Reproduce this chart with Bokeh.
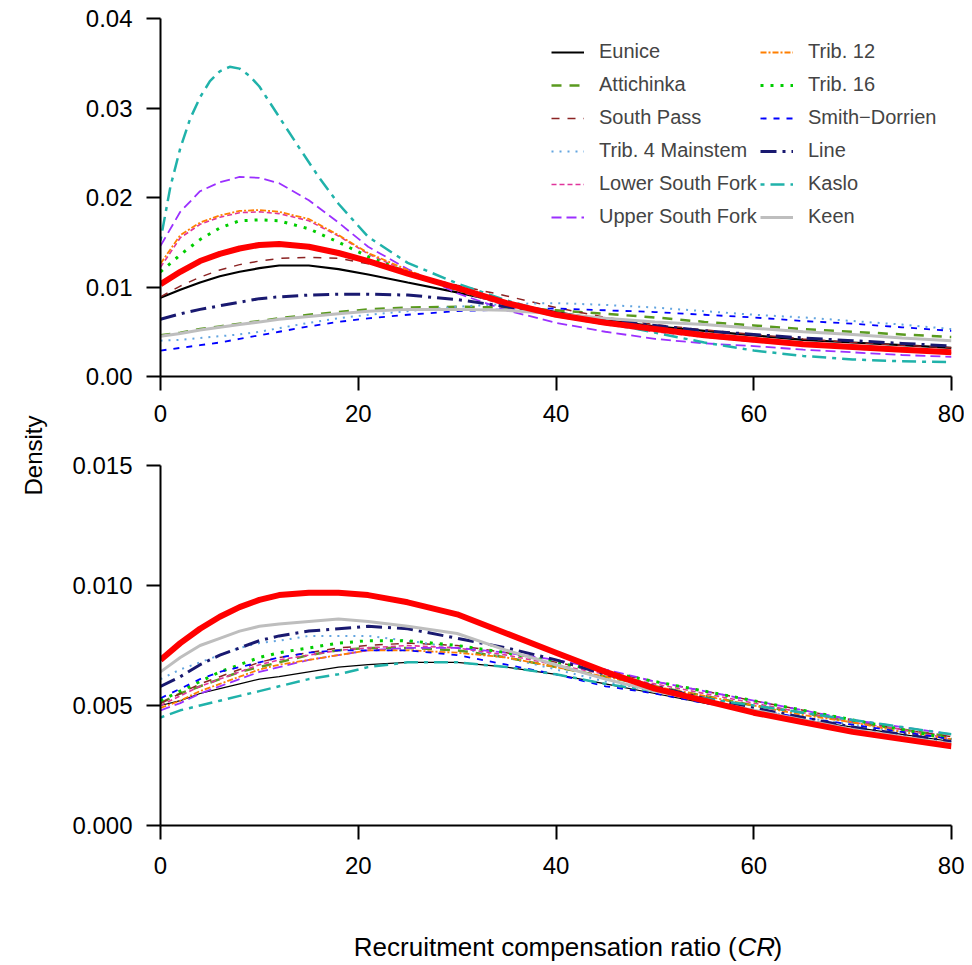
import math
from bokeh.plotting import figure
from bokeh.layouts import row, column
from bokeh.models import Range1d, FixedTicker, PrintfTickFormatter, Legend, LegendItem
from bokeh.embed import file_html
from bokeh.resources import INLINE
from bokeh.core.properties import value

# ---------------- data ----------------
cr = [0, 2, 4, 6, 8, 10, 12, 15, 18, 21, 25, 30, 35, 40, 45, 50, 55, 60, 65, 70, 75, 80]
cr_kaslo_top = [0, 1, 2, 3, 4, 5, 6, 7, 8, 9, 10, 12, 14, 16, 18, 21, 25, 30, 35, 40, 45, 50, 55, 60, 65, 70, 75, 80]

sites = ["Eunice", "Attichinka", "South Pass", "Trib. 4 Mainstem", "Lower South Fork",
         "Upper South Fork", "Trib. 12", "Trib. 16", "Smith\u2212Dorrien", "Line", "Kaslo", "Keen"]

# top panel densities
top_eunice = [0.0088, 0.0097, 0.0105, 0.0112, 0.0117, 0.0121, 0.0124, 0.0124, 0.0120, 0.0114, 0.0105, 0.0094, 0.0082, 0.0072, 0.0063, 0.0056, 0.0051, 0.0046, 0.0041, 0.0038, 0.0035, 0.0032]
top_attichinka = [0.0046, 0.0049, 0.0053, 0.0056, 0.0059, 0.0062, 0.0065, 0.0069, 0.0072, 0.0075, 0.0077, 0.0078, 0.0077, 0.0074, 0.0070, 0.0066, 0.0061, 0.0057, 0.0053, 0.0050, 0.0047, 0.0044]
top_southpass = [0.0089, 0.0101, 0.0111, 0.0119, 0.0125, 0.0129, 0.0132, 0.0133, 0.0132, 0.0126, 0.0115, 0.0102, 0.0090, 0.0077, 0.0066, 0.0058, 0.0052, 0.0047, 0.0042, 0.0038, 0.0035, 0.0032]
top_trib4 = [0.0040, 0.0041, 0.0043, 0.0045, 0.0047, 0.0050, 0.0054, 0.0060, 0.0065, 0.0069, 0.0073, 0.0078, 0.0081, 0.0082, 0.0080, 0.0077, 0.0073, 0.0069, 0.0066, 0.0062, 0.0058, 0.0053]
top_lsf = [0.0122, 0.0155, 0.0170, 0.0178, 0.0183, 0.0184, 0.0182, 0.0174, 0.0157, 0.0137, 0.0117, 0.0096, 0.0079, 0.0067, 0.0058, 0.0050, 0.0044, 0.0039, 0.0035, 0.0031, 0.0028, 0.0026]
top_usf = [0.0146, 0.0184, 0.0207, 0.0217, 0.0223, 0.0222, 0.0216, 0.0197, 0.0172, 0.0145, 0.0120, 0.0093, 0.0074, 0.0060, 0.0050, 0.0042, 0.0037, 0.0034, 0.0030, 0.0027, 0.0024, 0.0022]
top_trib12 = [0.0126, 0.0158, 0.0172, 0.0180, 0.0185, 0.0186, 0.0184, 0.0176, 0.0158, 0.0138, 0.0119, 0.0097, 0.0080, 0.0068, 0.0059, 0.0051, 0.0045, 0.0040, 0.0036, 0.0032, 0.0029, 0.0027]
top_trib16 = [0.0117, 0.0136, 0.0153, 0.0166, 0.0174, 0.0175, 0.0174, 0.0165, 0.0150, 0.0134, 0.0116, 0.0097, 0.0081, 0.0069, 0.0060, 0.0052, 0.0046, 0.0041, 0.0037, 0.0033, 0.0030, 0.0027]
top_smith = [0.0029, 0.0032, 0.0035, 0.0038, 0.0042, 0.0046, 0.0050, 0.0056, 0.0061, 0.0065, 0.0069, 0.0073, 0.0075, 0.0076, 0.0074, 0.0072, 0.0069, 0.0066, 0.0062, 0.0059, 0.0055, 0.0051]
top_line = [0.0064, 0.0070, 0.0075, 0.0079, 0.0083, 0.0087, 0.0089, 0.0091, 0.0092, 0.0092, 0.0091, 0.0086, 0.0078, 0.0070, 0.0063, 0.0057, 0.0051, 0.0047, 0.0043, 0.0040, 0.0037, 0.0034]
top_kaslo = [0.0152, 0.0212, 0.0255, 0.0288, 0.0312, 0.0330, 0.0341, 0.0346, 0.0344, 0.0336, 0.0324, 0.0290, 0.0256, 0.0223, 0.0193, 0.0156, 0.0127, 0.0104, 0.0085, 0.0069, 0.0060, 0.0049, 0.0038, 0.0029, 0.0023, 0.0019, 0.0017, 0.0016]
top_keen = [0.0045, 0.0048, 0.0052, 0.0055, 0.0058, 0.0061, 0.0064, 0.0067, 0.0070, 0.0073, 0.0075, 0.0075, 0.0074, 0.0070, 0.0065, 0.0061, 0.0058, 0.0054, 0.0050, 0.0047, 0.0043, 0.0040]
top_pooled = [0.0103, 0.0117, 0.0129, 0.0137, 0.0143, 0.0147, 0.0148, 0.0145, 0.0138, 0.0129, 0.0115, 0.0099, 0.0082, 0.0069, 0.0060, 0.0053, 0.0046, 0.0041, 0.0036, 0.0033, 0.0030, 0.0027]

# bottom panel densities
bot_eunice = [0.0050, 0.0052, 0.0055, 0.0057, 0.0059, 0.0061, 0.0062, 0.0064, 0.0066, 0.0067, 0.0068, 0.0068, 0.0066, 0.0063, 0.0059, 0.0055, 0.0051, 0.0048, 0.0044, 0.0041, 0.0038, 0.0035]
bot_attichinka = [0.0051, 0.0055, 0.0058, 0.0061, 0.0064, 0.0066, 0.0068, 0.0071, 0.0073, 0.0074, 0.0074, 0.0073, 0.0070, 0.0066, 0.0062, 0.0058, 0.0054, 0.0050, 0.0047, 0.0043, 0.0040, 0.0037]
bot_southpass = [0.0051, 0.0055, 0.0059, 0.0062, 0.0065, 0.0068, 0.0070, 0.0072, 0.0074, 0.0075, 0.0076, 0.0075, 0.0072, 0.0068, 0.0064, 0.0060, 0.0056, 0.0052, 0.0048, 0.0044, 0.0040, 0.0037]
bot_trib4 = [0.0061, 0.0065, 0.0068, 0.0071, 0.0074, 0.0076, 0.0077, 0.0079, 0.0079, 0.0079, 0.0077, 0.0074, 0.0070, 0.0065, 0.0060, 0.0056, 0.0052, 0.0048, 0.0045, 0.0042, 0.0039, 0.0036]
bot_lsf = [0.0050, 0.0054, 0.0058, 0.0061, 0.0064, 0.0067, 0.0069, 0.0071, 0.0073, 0.0074, 0.0075, 0.0074, 0.0071, 0.0067, 0.0063, 0.0059, 0.0055, 0.0051, 0.0047, 0.0043, 0.0040, 0.0036]
bot_usf = [0.0048, 0.0051, 0.0055, 0.0058, 0.0061, 0.0064, 0.0066, 0.0069, 0.0071, 0.0073, 0.0074, 0.0074, 0.0072, 0.0069, 0.0065, 0.0060, 0.0056, 0.0052, 0.0048, 0.0044, 0.0041, 0.0038]
bot_trib12 = [0.0049, 0.0052, 0.0056, 0.0059, 0.0062, 0.0065, 0.0067, 0.0069, 0.0071, 0.0073, 0.0073, 0.0072, 0.0070, 0.0066, 0.0062, 0.0058, 0.0054, 0.0050, 0.0046, 0.0043, 0.0039, 0.0036]
bot_trib16 = [0.0052, 0.0056, 0.0060, 0.0064, 0.0067, 0.0070, 0.0072, 0.0074, 0.0076, 0.0077, 0.0077, 0.0075, 0.0072, 0.0068, 0.0064, 0.0060, 0.0056, 0.0052, 0.0048, 0.0044, 0.0040, 0.0036]
bot_smith = [0.0053, 0.0057, 0.0061, 0.0064, 0.0066, 0.0068, 0.0070, 0.0072, 0.0073, 0.0073, 0.0073, 0.0071, 0.0067, 0.0063, 0.0058, 0.0055, 0.0051, 0.0048, 0.0045, 0.0042, 0.0039, 0.0036]
bot_line = [0.0058, 0.0062, 0.0067, 0.0071, 0.0074, 0.0077, 0.0079, 0.0081, 0.0082, 0.0083, 0.0082, 0.0078, 0.0074, 0.0069, 0.0063, 0.0058, 0.0053, 0.0049, 0.0045, 0.0041, 0.0038, 0.0035]
bot_kaslo = [0.0045, 0.0048, 0.0050, 0.0052, 0.0054, 0.0056, 0.0058, 0.0061, 0.0063, 0.0066, 0.0068, 0.0068, 0.0066, 0.0063, 0.0059, 0.0056, 0.0053, 0.0050, 0.0047, 0.0044, 0.0041, 0.0038]
bot_keen = [0.0064, 0.0070, 0.0075, 0.0078, 0.0081, 0.0083, 0.0084, 0.0085, 0.0086, 0.0085, 0.0083, 0.0080, 0.0073, 0.0067, 0.0061, 0.0056, 0.0052, 0.0048, 0.0044, 0.0040, 0.0037, 0.0034]
bot_pooled = [0.0069, 0.0076, 0.0082, 0.0087, 0.0091, 0.0094, 0.0096, 0.0097, 0.0097, 0.0096, 0.0093, 0.0088, 0.0080, 0.0072, 0.0064, 0.0057, 0.0052, 0.0047, 0.0043, 0.0039, 0.0036, 0.0033]

top_series = [top_eunice, top_attichinka, top_southpass, top_trib4, top_lsf, top_usf,
              top_trib12, top_trib16, top_smith, top_line, top_kaslo, top_keen]
top_x = [cr] * 10 + [cr_kaslo_top, cr]
bot_series = [bot_eunice, bot_attichinka, bot_southpass, bot_trib4, bot_lsf, bot_usf,
              bot_trib12, bot_trib16, bot_smith, bot_line, bot_kaslo, bot_keen]

x_ticks = [0, 20, 40, 60, 80]
top_y_ticks = [0.0, 0.01, 0.02, 0.03, 0.04]
bot_y_ticks = [0.0, 0.005, 0.010, 0.015]

# ---------------- styles ----------------
colors = ["#000000", "#5A9A1F", "#8B2323", "#63A5E0", "#E0349B", "#9B30FF",
          "#FF7F00", "#00CD00", "#0000FF", "#191970", "#20B2AA", "#BEBEBE"]
dashes = ["solid", "10 8", "8 8", "2 6", "5 3", "10 5",
          "6 2 2 2", "3 7", "6 7", "16 6 3 6", "4 6 14 6", "solid"]
widths = [2.2, 2.5, 1.5, 2.0, 1.6, 1.8, 1.8, 3.0, 1.8, 3.0, 2.5, 3.0]

FONT = "Liberation Sans"
W = 906
LAB_W = 58
TOP_H = 436
BOT_H = 469
TTL_H = 56
TOTAL_H = TOP_H + BOT_H + TTL_H


def style_axes(p, yfmt, xstand):
    for ax in (p.xaxis[0], p.yaxis[0]):
        ax.axis_line_width = 2
        ax.major_tick_line_width = 2
        ax.major_tick_in = 0
        ax.major_tick_out = 14
        ax.minor_tick_line_color = None
        ax.major_label_text_font = FONT
        ax.major_label_text_font_size = "24px"
        ax.major_label_text_color = "#000000"
        ax.major_label_standoff = 14
    p.xaxis[0].major_label_standoff = xstand
    p.xaxis[0].ticker = FixedTicker(ticks=x_ticks)
    p.xaxis[0].formatter = PrintfTickFormatter(format="%d")
    p.yaxis[0].formatter = PrintfTickFormatter(format=yfmt)
    p.xgrid.visible = False
    p.ygrid.visible = False
    p.outline_line_color = None


top = figure(width=W, height=TOP_H, x_range=Range1d(0, 80), y_range=Range1d(0, 0.04),
             min_border_left=102, min_border_right=13, min_border_top=18, min_border_bottom=60,
             output_backend="svg", toolbar_location=None)
style_axes(top, "%.2f", 14)
top.yaxis[0].ticker = FixedTicker(ticks=top_y_ticks)

bot = figure(width=W, height=BOT_H, x_range=Range1d(0, 80), y_range=Range1d(0, 0.015),
             min_border_left=102, min_border_right=13, min_border_top=29, min_border_bottom=80,
             output_backend="svg", toolbar_location=None)
style_axes(bot, "%.3f", 17)
bot.yaxis[0].ticker = FixedTicker(ticks=bot_y_ticks)

top_renderers = []
for i, name in enumerate(sites):
    r = top.line(top_x[i], top_series[i], line_color=colors[i], line_dash=dashes[i], line_width=widths[i])
    top_renderers.append(r)
    bw = 1.2 if i == 0 else widths[i]
    bot.line(cr, bot_series[i], line_color=colors[i], line_dash=dashes[i], line_width=bw)

top.line(cr, top_pooled, line_color="#FF0000", line_width=6)
bot.line(cr, bot_pooled, line_color="#FF0000", line_width=6)

for k, xloc in ((0, 391), (1, 600)):
    items = [LegendItem(label=sites[j], renderers=[top_renderers[j]]) for j in range(6 * k, 6 * k + 6)]
    lg = Legend(items=items, location=(xloc, 148), glyph_width=33, glyph_height=20,
                label_height=20, label_standoff=15, spacing=10, padding=0, margin=0,
                border_line_color=None, background_fill_alpha=0,
                label_text_font=FONT, label_text_font_size="20px")
    top.add_layout(lg)

# "Density" label strip
lab = figure(width=LAB_W, height=TOTAL_H, x_range=Range1d(0, LAB_W), y_range=Range1d(0, TOTAL_H),
             min_border=0, x_axis_type=None, y_axis_type=None,
             output_backend="svg", toolbar_location=None)
lab.outline_line_color = None
lab.xgrid.visible = False
lab.ygrid.visible = False
lab.text(x=[33], y=[TOTAL_H - 455], text=["Density"], angle=math.pi / 2, text_align="center",
         text_baseline="middle", text_font=value(FONT), text_font_size="24px", text_color="#000000")

# x axis title strip (x in page pixels minus the label strip)
ttl = figure(width=W, height=TTL_H, x_range=Range1d(0, W), y_range=Range1d(0, TTL_H),
             min_border=0, x_axis_type=None, y_axis_type=None,
             output_backend="svg", toolbar_location=None)
ttl.outline_line_color = None
ttl.xgrid.visible = False
ttl.ygrid.visible = False
ty = 15
ttl.text(x=[718 - LAB_W], y=[ty], text=["Recruitment compensation ratio ("], text_align="right",
         text_baseline="middle", text_font=value(FONT), text_font_size="26px", text_color="#000000")
ttl.text(x=[719 - LAB_W], y=[ty], text=["CR"], text_align="left", text_font_style="italic",
         text_baseline="middle", text_font=value(FONT), text_font_size="26px", text_color="#000000")
ttl.text(x=[760 - LAB_W], y=[ty], text=[")"], text_align="left",
         text_baseline="middle", text_font=value(FONT), text_font_size="26px", text_color="#000000")

layout = row(lab, column(top, bot, ttl))
open("out.html", "w").write(file_html(layout, INLINE))
